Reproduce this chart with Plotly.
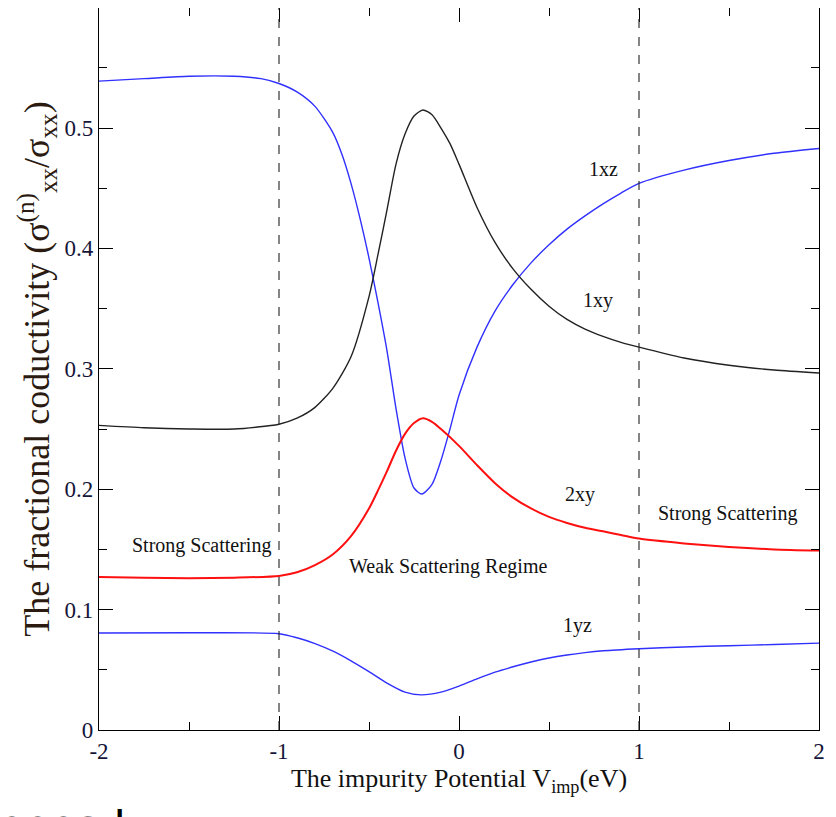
import plotly.graph_objects as go

# ---- data ----
x_1xz = [-2.0, -1.75, -1.5, -1.25, -1.1, -1.0, -0.9, -0.8, -0.7, -0.65, -0.6, -0.55, -0.5, -0.45,
         -0.4, -0.35, -0.3, -0.25, -0.206, -0.15, -0.1, -0.05, 0.0, 0.1, 0.2, 0.3, 0.4, 0.5, 0.6,
         0.7, 0.8, 0.9, 1.0, 1.25, 1.5, 1.75, 2.0]
y_1xz = [0.539, 0.541, 0.543, 0.543, 0.541, 0.537, 0.530, 0.518, 0.496, 0.478, 0.454, 0.425, 0.392, 0.355,
         0.315, 0.267, 0.226, 0.201, 0.196, 0.204, 0.224, 0.250, 0.278, 0.318, 0.348, 0.370, 0.388, 0.403,
         0.416, 0.427, 0.437, 0.446, 0.454, 0.465, 0.473, 0.479, 0.483]

x_1xy = [-2.0, -1.75, -1.5, -1.25, -1.0, -0.9, -0.8, -0.7, -0.6, -0.5, -0.45, -0.4, -0.35, -0.3,
         -0.25, -0.2, -0.15, -0.1, -0.05, 0.0, 0.1, 0.2, 0.3, 0.4, 0.5, 0.6, 0.7, 0.8, 0.9, 1.0,
         1.25, 1.5, 1.75, 2.0]
y_1xy = [0.253, 0.251, 0.250, 0.250, 0.254, 0.259, 0.268, 0.284, 0.310, 0.360, 0.395, 0.432, 0.470, 0.495,
         0.510, 0.515, 0.511, 0.500, 0.487, 0.470, 0.434, 0.405, 0.383, 0.366, 0.352, 0.341, 0.333, 0.327,
         0.322, 0.318, 0.309, 0.303, 0.299, 0.2965]

x_2xy = [-2.0, -1.75, -1.5, -1.25, -1.0, -0.9, -0.8, -0.7, -0.6, -0.5, -0.45, -0.4, -0.35, -0.3,
         -0.25, -0.2, -0.15, -0.1, 0.0, 0.1, 0.2, 0.3, 0.4, 0.5, 0.6, 0.7, 0.8, 0.9, 1.0, 1.25,
         1.5, 1.75, 2.0]
y_2xy = [0.127, 0.1265, 0.126, 0.1265, 0.128, 0.131, 0.137, 0.146, 0.161, 0.184, 0.199, 0.215, 0.232, 0.246,
         0.255, 0.259, 0.256, 0.250, 0.236, 0.220, 0.205, 0.193, 0.184, 0.177, 0.172, 0.168, 0.165, 0.162,
         0.159, 0.155, 0.152, 0.150, 0.149]

x_1yz = [-2.0, -1.5, -1.0, -0.9, -0.8, -0.7, -0.6, -0.5, -0.4, -0.3, -0.21, -0.1, 0.0, 0.1, 0.2,
         0.3, 0.4, 0.5, 0.6, 0.7, 0.8, 1.0, 1.25, 1.5, 1.75, 2.0]
y_1yz = [0.0806, 0.0808, 0.080, 0.0766, 0.0718, 0.0655, 0.0575, 0.0485, 0.039, 0.0315, 0.0292, 0.0315, 0.0365,
         0.0425, 0.048, 0.0525, 0.0565, 0.0598, 0.0623, 0.0643, 0.0658, 0.0675, 0.069, 0.070, 0.071, 0.0722]

regime_bounds = [-1, 1]

curve_labels = ["1xz", "1xy", "2xy", "1yz"]
curve_label_x = [0.80, 0.77, 0.67, 0.66]
curve_label_y = [0.466, 0.357, 0.196, 0.087]

region_labels = ["Strong Scattering", "Weak Scattering Regime", "Strong Scattering"]
region_label_x = [-1.43, -0.06, 1.49]
region_label_y = [0.153, 0.136, 0.180]

x_tick_vals = [-2, -1, 0, 1, 2]
x_tick_text = ["-2", "-1", "0", "1", "2"]
y_tick_vals = [0, 0.1, 0.2, 0.3, 0.4, 0.5]
y_tick_text = ["0", "0.1", "0.2", "0.3", "0.4", "0.5"]

SERIF = "Liberation Serif, Times New Roman, serif"

fig = go.Figure()
series = [
    (x_1xz, y_1xz, "#3030ff", 1.4),
    (x_1xy, y_1xy, "#222222", 1.4),
    (x_2xy, y_2xy, "#ff1010", 2.0),
    (x_1yz, y_1yz, "#3030ff", 1.4),
]
for xs, ys, col, w in series:
    fig.add_trace(go.Scatter(x=xs, y=ys, mode="lines",
                             line=dict(color=col, width=w, shape="spline", smoothing=0.7),
                             showlegend=False, hoverinfo="skip"))

for xv in regime_bounds:
    fig.add_shape(type="line", xref="x", yref="paper", x0=xv, x1=xv, y0=0, y1=1,
                  line=dict(color="#222222", width=1.1, dash="dash"))

for t, xv, yv in zip(curve_labels + region_labels, curve_label_x + region_label_x,
                     curve_label_y + region_label_y):
    fig.add_annotation(x=xv, y=yv, xref="x", yref="y", text=t, showarrow=False,
                       font=dict(family=SERIF, size=20, color="#111111"))

# cropped stray text at bottom-left of the reference
fig.add_annotation(xref="paper", yref="paper", x=-0.142, y=-0.132, xanchor="left", yanchor="middle",
                   text="ooos !", showarrow=False,
                   font=dict(family="DejaVu Sans", size=42, color="#000000"))

axis_common = dict(showline=True, linecolor="black", linewidth=1.3, mirror="allticks",
                   ticks="inside", ticklen=14, tickwidth=1.2, tickcolor="black",
                   showgrid=False, zeroline=False,
                   tickfont=dict(family=SERIF, size=23, color="#15153a"))

fig.update_xaxes(range=[-2, 2], tickmode="array", tickvals=x_tick_vals, ticktext=x_tick_text,
                 minor=dict(ticks="inside", ticklen=8, tickwidth=1.2, tickcolor="black", dtick=0.5, tick0=0),
                 title=dict(text="The impurity Potential V<sub>imp</sub>(eV)", standoff=6,
                            font=dict(family=SERIF, size=26, color="#111111")),
                 **axis_common)
fig.update_yaxes(range=[0, 0.5997], tickmode="array", tickvals=y_tick_vals, ticktext=y_tick_text,
                 minor=dict(ticks="inside", ticklen=8, tickwidth=1.2, tickcolor="black", dtick=0.05, tick0=0),
                 title=dict(text="The fractional coductivity (σ<sup>(n)</sup><sub>xx</sub>/σ<sub>xx</sub>)",
                            standoff=3, font=dict(family=SERIF, size=36, color="#2a1a10")),
                 **axis_common)

fig.update_layout(width=836, height=817, margin=dict(l=91, r=25, t=0, b=95, autoexpand=False),
                  plot_bgcolor="white", paper_bgcolor="white")

fig.write_html("out.html")
